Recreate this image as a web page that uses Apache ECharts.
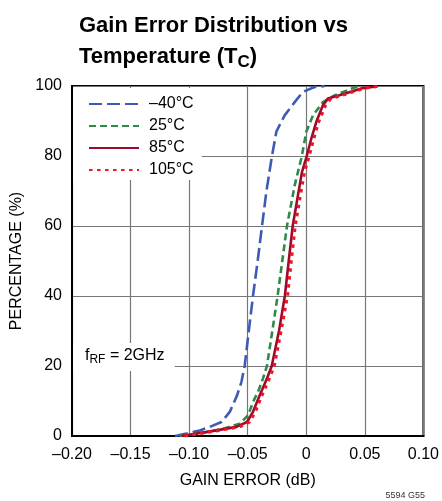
<!DOCTYPE html>
<html>
<head>
<meta charset="utf-8">
<script src="https://cdn.jsdelivr.net/npm/echarts@6/dist/echarts.min.js"></script>
<style>
html,body{margin:0;padding:0;background:#fff;}
#chart{width:442px;height:501px;}
</style>
</head>
<body>
<div id="chart"></div>
<script>
const FONT = "'Liberation Sans Narrow','Arial Narrow','Liberation Sans',sans-serif";

const seriesNames = ['–40°C', '25°C', '85°C', '105°C'];

const errM40 = [-0.112, -0.1022, -0.0909, -0.0824, -0.0724, -0.0653, -0.0591, -0.0554, -0.0526, -0.0491, -0.0455, -0.0415, -0.0378, -0.034, -0.0293, -0.0255, -0.0185, -0.0099, -0.0029, 0.0071, 0.0156];
const pctM40 = [0, 0.7, 1.6, 2.6, 4, 6.9, 11.6, 15.4, 20, 30, 40, 50, 60, 70, 80, 87, 91.6, 95.4, 98.3, 99.7, 100];

const err25 = [-0.108, -0.0881, -0.071, -0.0568, -0.0497, -0.0455, -0.0412, -0.037, -0.0336, -0.029, -0.0245, -0.0205, -0.0165, -0.0099, -0.0038, 0.0, 0.0057, 0.0142, 0.0241, 0.0384, 0.045];
const pct25 = [0, 0.9, 2.1, 3.5, 5.9, 9.7, 12.6, 16.4, 20, 30, 40, 50, 60, 71.6, 80, 86.9, 91.6, 95.4, 97.3, 99.2, 100];

const err85 = [-0.1065, -0.0937, -0.0767, -0.0596, -0.0506, -0.0455, -0.0398, -0.0336, -0.0295, -0.0233, -0.0183, -0.015, -0.0116, -0.0071, -0.0037, 0.0004, 0.0043, 0.0085, 0.0142, 0.0185, 0.0327, 0.0483, 0.0582, 0.061];
const pct85 = [0, 0.7, 1.6, 2.6, 4, 6.9, 11.6, 16.4, 20, 30, 40, 50, 60, 68.8, 75.4, 80, 85, 89.7, 94.5, 96.4, 97.8, 99.4, 99.8, 100];

const err105 = [-0.104, -0.091, -0.074, -0.057, -0.0483, -0.0435, -0.0378, -0.0315, -0.0273, -0.0215, -0.016, -0.0128, -0.0094, -0.005, -0.0015, 0.0025, 0.0065, 0.0105, 0.0165, 0.021, 0.035, 0.05, 0.059, 0.0625];
const pct105 = [0, 0.7, 1.6, 2.6, 4, 6.9, 11.6, 16.4, 20, 30, 40, 50, 60, 68.8, 75.4, 80, 85, 89.7, 94.5, 96.4, 97.8, 99.4, 99.8, 100];

const xTicks = [-0.20, -0.15, -0.10, -0.05, 0, 0.05, 0.10];
const yTicks = [0, 20, 40, 60, 80, 100];

function pairs(xs, ys) { return xs.map((x, i) => [x, ys[i]]); }

function fmtX(v) {
  if (Math.abs(v) < 1e-9) return '0';
  const s = Math.abs(v).toFixed(2);
  return (v < 0 ? '–' : '') + s;
}

const chart = echarts.init(document.getElementById('chart'), null, {renderer: 'canvas'});

const styles = [
  {color: '#3d5bb4', type: [13, 5], width: 2.6},
  {color: '#2f8a48', type: [7, 4], width: 2.6},
  {color: '#9e0a2e', type: 'solid', width: 2.6},
  {color: '#f0141e', type: [3.5, 4.5], width: 3}
];
const datas = [pairs(errM40, pctM40), pairs(err25, pct25), pairs(err85, pct85), pairs(err105, pct105)];

chart.setOption({
  animation: false,
  backgroundColor: '#fff',
  title: [
    {
      text: 'Gain Error Distribution vs\nTemperature (T{sub|C})',
      left: 74, top: 5,
      textStyle: {
        fontFamily: FONT, fontWeight: 'bold', fontSize: 22, lineHeight: 31, color: '#000',
        rich: {
          sub: {fontFamily: FONT, fontWeight: 'bold', fontSize: 17, color: '#000', padding: [11, 0, 0, 0]}
        }
      }
    },
    {
      text: 'f{sub|RF} = 2GHz',
      left: 73, top: 341,
      backgroundColor: '#fff',
      padding: [5, 10, 5, 12],
      textStyle: {
        fontFamily: FONT, fontWeight: 'normal', fontSize: 16, color: '#000',
        rich: {
          sub: {fontFamily: FONT, fontSize: 12, color: '#000', padding: [8, 0, 0, 0]}
        }
      }
    },
    {
      text: '5594 G55',
      right: 17, top: 491,
      padding: 0,
      textStyle: {fontFamily: FONT, fontWeight: 'normal', fontSize: 9, color: '#333'}
    }
  ],
  legend: {
    orient: 'vertical',
    left: 73, top: 88,
    padding: [7, 8, 1, 15],
    backgroundColor: '#fff',
    itemWidth: 50, itemHeight: 12, itemGap: 4,
    itemStyle: {opacity: 0, borderWidth: 0},
    textStyle: {fontFamily: FONT, fontSize: 16, color: '#000', lineHeight: 18, padding: [0, 0, 0, 5]},
    data: seriesNames
  },
  grid: {left: 72, right: 18, top: 86, bottom: 65, show: true, borderColor: '#000', borderWidth: 2, containLabel: false},
  xAxis: {
    type: 'value', min: -0.2, max: 0.1, interval: 0.05,
    name: 'GAIN ERROR (dB)', nameLocation: 'middle', nameGap: 37,
    nameTextStyle: {fontFamily: FONT, fontSize: 16, color: '#000'},
    axisLine: {show: true, onZero: false, lineStyle: {color: '#000', width: 2}},
    axisTick: {show: false},
    axisLabel: {fontFamily: FONT, fontSize: 16, color: '#000', margin: 11, formatter: fmtX},
    splitLine: {show: true, lineStyle: {color: '#777', width: 1.2}}
  },
  yAxis: {
    type: 'value', min: 0, max: 100, interval: 20,
    name: 'PERCENTAGE (%)', nameLocation: 'middle', nameGap: 35, nameRotate: 90,
    nameTextStyle: {fontFamily: FONT, fontSize: 16, color: '#000'},
    axisLine: {show: true, onZero: false, lineStyle: {color: '#000', width: 2}},
    axisTick: {show: false},
    axisLabel: {fontFamily: FONT, fontSize: 16, color: '#000', margin: 10},
    splitLine: {show: true, lineStyle: {color: '#777', width: 1.2}}
  },
  series: seriesNames.map((n, i) => ({
    name: n, type: 'line', data: datas[i],
    symbol: 'none', showSymbol: false, smooth: false,
    color: styles[i].color,
    lineStyle: {color: styles[i].color, type: styles[i].type, width: styles[i].width},
    z: 2 + i
  }))
});
</script>
</body>
</html>
